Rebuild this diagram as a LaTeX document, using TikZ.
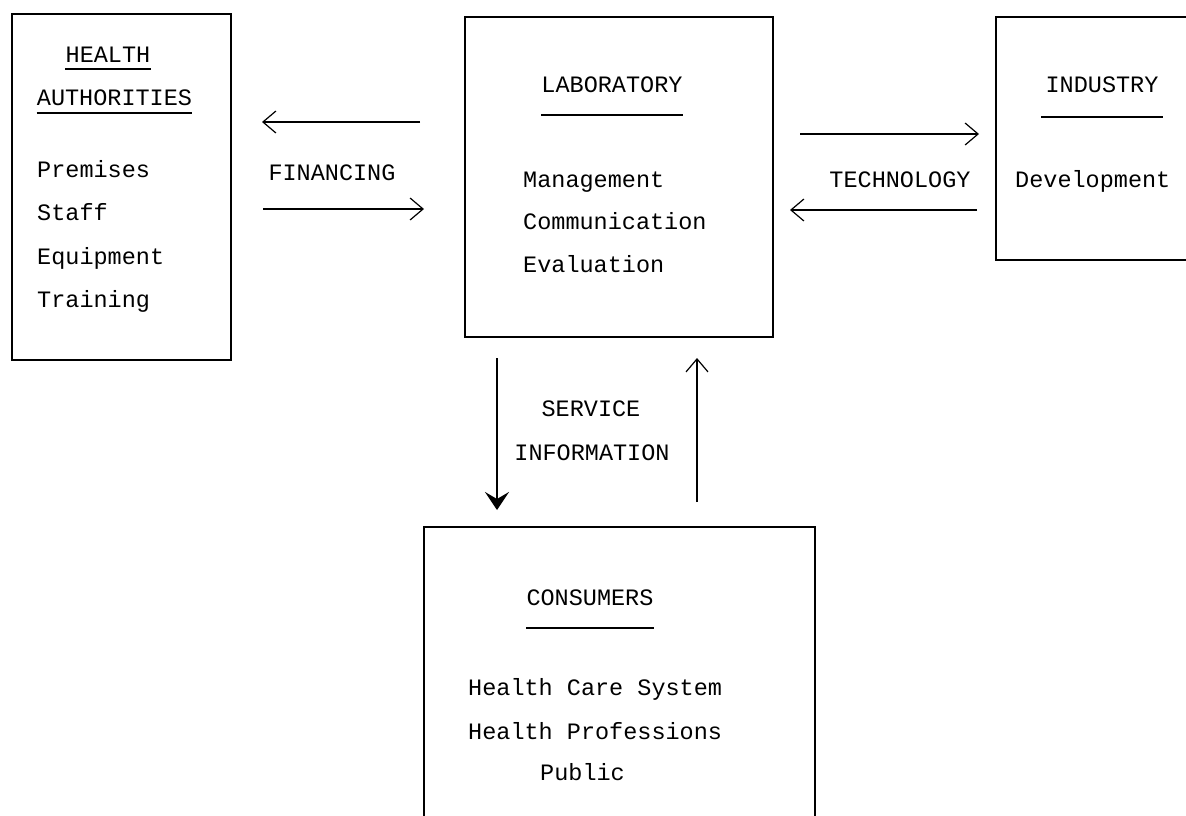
\documentclass[tikz,border=0pt]{standalone}
\usepackage{fontspec}
\setmonofont{Liberation Mono}
\usetikzlibrary{arrows.meta,positioning,calc}

\begin{document}
\begin{tikzpicture}[x=1pt,y=-1pt,
	box/.style = {draw, line width=1.6pt, minimum width=#1},
	txt/.style = {font=\ttfamily\fontsize{23.5}{24}\selectfont, inner sep=0pt, anchor=base west},
	head/.style = {txt, anchor=base},
	uline/.style = {line width=1.4pt},
	flow/.style = {line width=1.3pt, -{Straight Barb[length=13pt,width=22pt,line width=1.2pt]}},
	bold flow/.style = {line width=2.6pt, -{Stealth[length=18pt,width=24pt,inset=7pt]}}]
	\useasboundingbox[fill=white] (0,0) rectangle (1186,815);

	% boxes
	\node[box=219pt, minimum height=346pt] (ha) at (121.5,187) {};
	\node[box=308pt, minimum height=320pt] (lab) at (619,177) {};
	\node[box=215pt, minimum height=243pt] (ind) at (1103.5,138.5) {};
	\node[box=391pt, minimum height=313pt] (cons) at (619.5,683.5) {};

	% health authorities
	\node[head] (hat1) at (108,62) {HEALTH};
	\node[head] (hat2) at (114.5,105) {AUTHORITIES};
	\draw[uline] ([yshift=-7pt]hat1.base west) -- ([yshift=-7pt]hat1.base east);
	\draw[uline] ([yshift=-8pt]hat2.base west) -- ([yshift=-8pt]hat2.base east);
	\node[txt] (ha1) at (37,177) {Premises};
	\node[txt] (ha2) at (37,220) {Staff};
	\node[txt] (ha3) at (37,264) {Equipment};
	\node[txt] (ha4) at (37,307) {Training};

	% laboratory
	\node[head] (labt) at (612,92) {LABORATORY};
	\draw[uline] ([yshift=-23pt]labt.base west) -- ([yshift=-23pt]labt.base east);
	\node[txt] (lab1) at (523,187) {Management};
	\node[txt] (lab2) at (523,229) {Communication};
	\node[txt] (lab3) at (523,272) {Evaluation};

	% industry
	\node[head] (indt) at (1102,92) {INDUSTRY};
	\draw[uline] ([xshift=-4pt,yshift=-25pt]indt.base west) -- ([xshift=4pt,yshift=-25pt]indt.base east);
	\node[txt] (ind1) at (1015,187) {Development};

	% consumers
	\node[head] (const) at (590,605) {CONSUMERS};
	\draw[uline] ([yshift=-23pt]const.base west) -- ([yshift=-23pt]const.base east);
	\node[txt] (cons1) at (468,695) {Health Care System};
	\node[txt] (cons2) at (468,739) {Health Professions};
	\node[txt] (cons3) at (540,780) {Public};

	% flows between the boxes
	\node[head] (fin) at (332,180) {FINANCING};
	\node[head] (tech) at (900,187) {TECHNOLOGY};
	\node[head] (serv) at (591,416) {SERVICE};
	\node[head] (info) at (592,460) {INFORMATION};

	\coordinate (finA) at (420,122);
	\coordinate (finB) at (262,122);
	\coordinate (finC) at (263,209);
	\coordinate (finD) at (424,209);
	\coordinate (techA) at (800,134);
	\coordinate (techB) at (979,134);
	\coordinate (techC) at (977,210);
	\coordinate (techD) at (790,210);
	\coordinate (servA) at (497,358);
	\coordinate (servB) at (497,510);
	\coordinate (servC) at (697,502);
	\coordinate (servD) at (697,358);

	\draw[flow] (finA) -- (finB);
	\draw[flow] (finC) -- (finD);
	\draw[flow] (techA) -- (techB);
	\draw[flow] (techC) -- (techD);
	\draw[bold flow] (servA) -- (servB);
	\draw[flow] (servC) -- (servD);
\end{tikzpicture}
\end{document}
